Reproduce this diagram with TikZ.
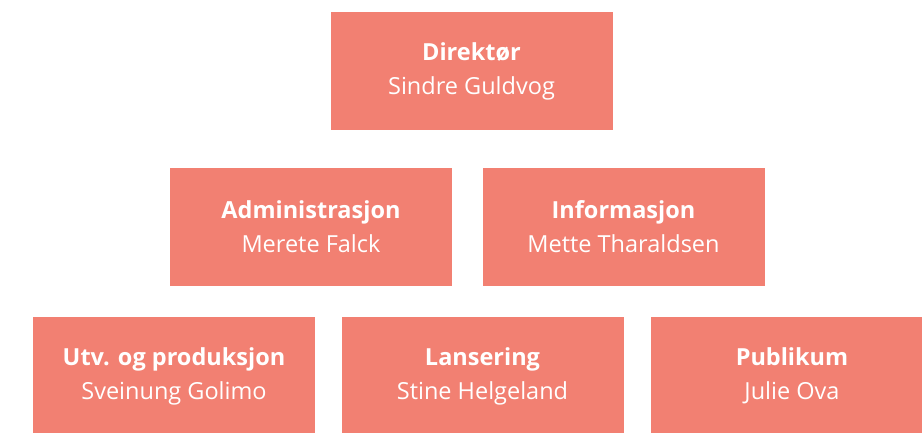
\documentclass[tikz,border=0pt]{standalone}
\usepackage{fontspec}
\setmainfont{Open Sans}
\definecolor{unitred}{HTML}{F28072}
\tikzstyle{unit} = [rectangle, fill=unitred, text=white, align=center, inner sep=0pt, minimum width=282pt, minimum height=118pt, font=\fontsize{23.5}{34}\selectfont]
\newcommand{\unitbox}[4]{\node [unit] (#1) at #2 {{\bfseries #3}\\#4};}

\begin{document}
\begin{tikzpicture}[x=1pt, y=-1pt]%
	\clip (0,0) rectangle (922,433);%
	\fill[white] (0,0) rectangle (922,433);%
	% top
	\unitbox{dir}{(471.5,71)}{Direktør}{Sindre Guldvog}
	% middle row
	\unitbox{adm}{(311,227)}{Administrasjon}{Merete Falck}
	\unitbox{info}{(623.5,227)}{Informasjon}{Mette Tharaldsen}
	% bottom row
	\unitbox{utv}{(174,376)}{Utv. og produksjon}{Sveinung Golimo}
	\unitbox{lans}{(482.5,376)}{Lansering}{Stine Helgeland}
	\unitbox{pub}{(792,376)}{Publikum}{Julie Ova}
\end{tikzpicture}
\end{document}
